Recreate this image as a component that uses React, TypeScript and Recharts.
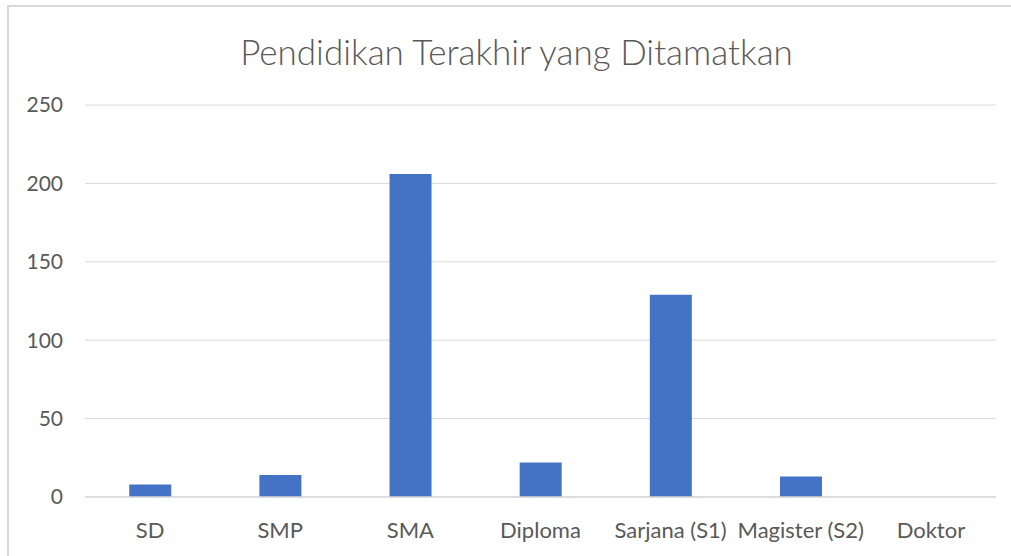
import React from 'react';
import { BarChart, Bar, XAxis, YAxis, CartesianGrid } from 'recharts';

// Data
const categories = ['SD', 'SMP', 'SMA', 'Diploma', 'Sarjana (S1)', 'Magister (S2)', 'Doktor'];
const counts = [8, 14, 206, 22, 129, 13, 0];
const yTicks = [0, 50, 100, 150, 200, 250];

const TITLE = 'Pendidikan Terakhir yang Ditamatkan';
const FONT = 'Lato, "Open Sans", sans-serif';
const TEXT_COLOR = '#595959';
const GRID_COLOR = '#d9d9d9';
const BAR_COLOR = '#4472c4';

const data = categories.map((name, i) => ({ name, value: counts[i] }));

export default function App() {
  return (
    <div style={{ position: 'absolute', left: 0, top: 0, width: 1011, height: 556, overflow: 'hidden', background: '#fff', fontFamily: FONT }}>
      {/* cadre du graphique */}
      <div
        style={{
          position: 'absolute',
          left: 7,
          top: 5,
          width: 1020,
          height: 570,
          border: `2px solid ${GRID_COLOR}`,
          boxSizing: 'border-box',
        }}
      />
      {/* titre */}
      <div
        style={{
          position: 'absolute',
          left: 0,
          width: 1033,
          top: 31,
          textAlign: 'center',
          fontSize: 35,
          fontWeight: 300,
          color: TEXT_COLOR,
          lineHeight: '40px',
          whiteSpace: 'nowrap',
        }}
      >
        {TITLE}
      </div>
      <div style={{ position: 'absolute', left: 0, top: 0 }}>
        <BarChart
          width={1011}
          height={556}
          data={data}
          margin={{ top: 105, right: 15, left: 0, bottom: 0 }}
          barCategoryGap="34%"
        >
          <CartesianGrid vertical={false} stroke={GRID_COLOR} strokeWidth={1} />
          <XAxis
            dataKey="name"
            height={59}
            interval={0}
            tickSize={0}
            tickMargin={25}
            axisLine={{ stroke: GRID_COLOR, strokeWidth: 1.5 }}
            tickLine={false}
            tick={{ fontSize: 22, fill: TEXT_COLOR, fontFamily: FONT }}
          />
          <YAxis
            width={85}
            domain={[0, 250]}
            ticks={yTicks}
            interval={0}
            tickSize={0}
            tickMargin={22}
            axisLine={false}
            tickLine={false}
            tick={{ fontSize: 21, fill: TEXT_COLOR, fontFamily: FONT }}
          />
          <Bar dataKey="value" fill={BAR_COLOR} isAnimationActive={false} />
        </BarChart>
      </div>
    </div>
  );
}
